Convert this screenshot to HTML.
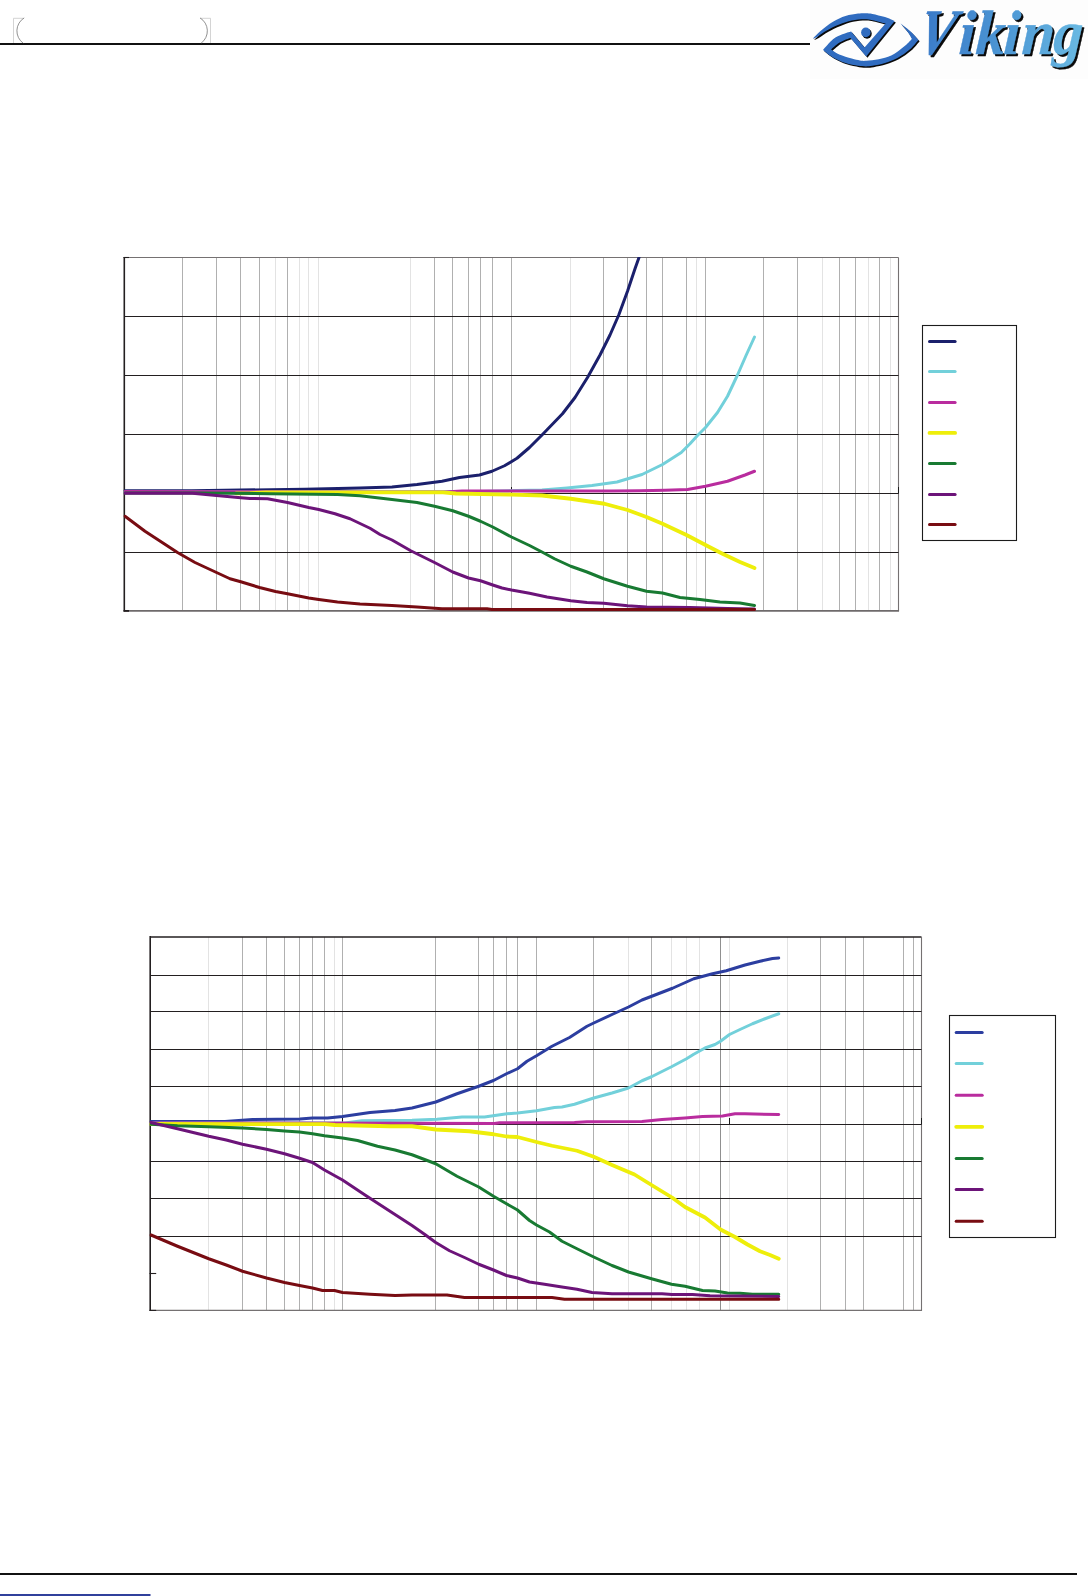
<!DOCTYPE html>
<html lang="en"><head><meta charset="utf-8"><title>Viking</title>
<style>
html,body{margin:0;padding:0;background:#fff}
body{width:1088px;height:1596px;position:relative;overflow:hidden;font-family:"Liberation Serif",serif}
svg{position:absolute;left:0;top:0;display:block}
</style></head><body>
<svg width="1088" height="1596" viewBox="0 0 1088 1596">
<rect width="1088" height="1596" fill="#fff"/>
<!-- header -->
<rect x="810" y="0" width="278" height="79" fill="#fdfdfd"/>
<rect x="0" y="43" width="810" height="2" fill="#111"/>
<g fill="none" stroke="#cfcfcf" stroke-width="0.9">
<path d="M23.7 18.3H13.5V43"/><path d="M200.3 18.3H210.5V43"/>
</g>
<g fill="none" stroke="#6e6e6e" stroke-width="0.75">
<path d="M24.2 17.9A15.2 15.2 0 0 0 23.2 43.2"/><path d="M200 17.9A15.2 15.2 0 0 1 201.1 43.2"/>
</g>
<!-- logo -->
<defs>
<linearGradient id="vg" gradientUnits="userSpaceOnUse" x1="3" y1="0" x2="153" y2="0">
<stop offset="0" stop-color="#3a7ac8"/><stop offset="0.5" stop-color="#4c96d4"/><stop offset="1" stop-color="#68b8e2"/>
</linearGradient>
<filter id="ds" filterUnits="userSpaceOnUse" x="915" y="0" width="173" height="80" color-interpolation-filters="sRGB">
<feOffset in="SourceAlpha" dx="1.65" dy="1.5" result="o"/>
<feFlood flood-color="#0a0a0a" result="c"/>
<feComposite in="c" in2="o" operator="in" result="sh"/>
<feMerge><feMergeNode in="sh"/><feMergeNode in="SourceGraphic"/></feMerge>
</filter>
</defs>
<g id="eye">
<g transform="translate(1.25 1.35)" fill="#0a0a0a"><path d="M812.80 38.70C814.08 37.43 817.13 33.93 820.50 31.10C823.87 28.28 828.83 24.25 833.00 21.75C837.17 19.25 841.33 17.46 845.50 16.10C849.67 14.74 854.58 14.08 858.00 13.60C861.42 13.12 863.58 13.15 866.00 13.20C868.42 13.25 869.33 13.25 872.50 13.90C875.67 14.55 881.30 15.90 885.00 17.10C888.70 18.30 893.08 20.43 894.70 21.10L866.2 56.5L850.5 38C849.46 38.37 846.33 39.27 844.25 40.20C842.17 41.13 840.19 42.03 838.00 43.60C835.81 45.17 832.25 48.60 831.10 49.60C832.46 50.43 835.81 53.10 839.25 54.60C842.69 56.10 848.29 57.62 851.75 58.60C855.21 59.58 857.58 60.13 860.00 60.50C862.42 60.87 863.12 61.01 866.25 60.80C869.38 60.59 874.58 60.13 878.75 59.25C882.92 58.37 887.08 57.58 891.25 55.50C895.42 53.42 900.31 49.52 903.75 46.75C907.19 43.98 910.54 40.21 911.90 38.90C911.17 37.71 909.38 34.30 907.50 31.75C905.62 29.20 901.75 24.96 900.60 23.60C902.17 24.85 907.03 28.38 910.00 31.10C912.97 33.82 917.00 38.43 918.40 39.90C917.00 41.46 913.48 46.23 910.00 49.25C906.52 52.27 901.67 55.71 897.50 58.00C893.33 60.29 889.17 61.70 885.00 63.00C880.83 64.30 875.67 65.23 872.50 65.80C869.33 66.37 868.42 66.40 866.00 66.40C863.58 66.40 861.42 66.37 858.00 65.80C854.58 65.23 849.67 64.40 845.50 63.00C841.33 61.60 836.75 59.58 833.00 57.40C829.25 55.22 824.67 51.15 823.00 49.90C824.67 48.12 829.77 41.86 833.00 39.25C836.23 36.64 839.38 35.56 842.40 34.25C845.42 32.94 849.65 31.88 851.10 31.40L864.5 47.4L885.6 23.6C883.42 23.03 876.06 20.93 872.50 20.20C868.94 19.47 867.71 19.20 864.25 19.25C860.79 19.30 855.92 19.61 851.75 20.50C847.58 21.39 843.42 22.92 839.25 24.60C835.08 26.28 830.36 28.58 826.75 30.60C823.14 32.62 819.93 35.35 817.60 36.70C815.27 38.05 813.60 38.37 812.80 38.70Z"/><ellipse cx="865.8" cy="32.4" rx="4.7" ry="4.9"/></g>
<g fill="#306cc0"><path d="M812.80 38.70C814.08 37.43 817.13 33.93 820.50 31.10C823.87 28.28 828.83 24.25 833.00 21.75C837.17 19.25 841.33 17.46 845.50 16.10C849.67 14.74 854.58 14.08 858.00 13.60C861.42 13.12 863.58 13.15 866.00 13.20C868.42 13.25 869.33 13.25 872.50 13.90C875.67 14.55 881.30 15.90 885.00 17.10C888.70 18.30 893.08 20.43 894.70 21.10L866.2 56.5L850.5 38C849.46 38.37 846.33 39.27 844.25 40.20C842.17 41.13 840.19 42.03 838.00 43.60C835.81 45.17 832.25 48.60 831.10 49.60C832.46 50.43 835.81 53.10 839.25 54.60C842.69 56.10 848.29 57.62 851.75 58.60C855.21 59.58 857.58 60.13 860.00 60.50C862.42 60.87 863.12 61.01 866.25 60.80C869.38 60.59 874.58 60.13 878.75 59.25C882.92 58.37 887.08 57.58 891.25 55.50C895.42 53.42 900.31 49.52 903.75 46.75C907.19 43.98 910.54 40.21 911.90 38.90C911.17 37.71 909.38 34.30 907.50 31.75C905.62 29.20 901.75 24.96 900.60 23.60C902.17 24.85 907.03 28.38 910.00 31.10C912.97 33.82 917.00 38.43 918.40 39.90C917.00 41.46 913.48 46.23 910.00 49.25C906.52 52.27 901.67 55.71 897.50 58.00C893.33 60.29 889.17 61.70 885.00 63.00C880.83 64.30 875.67 65.23 872.50 65.80C869.33 66.37 868.42 66.40 866.00 66.40C863.58 66.40 861.42 66.37 858.00 65.80C854.58 65.23 849.67 64.40 845.50 63.00C841.33 61.60 836.75 59.58 833.00 57.40C829.25 55.22 824.67 51.15 823.00 49.90C824.67 48.12 829.77 41.86 833.00 39.25C836.23 36.64 839.38 35.56 842.40 34.25C845.42 32.94 849.65 31.88 851.10 31.40L864.5 47.4L885.6 23.6C883.42 23.03 876.06 20.93 872.50 20.20C868.94 19.47 867.71 19.20 864.25 19.25C860.79 19.30 855.92 19.61 851.75 20.50C847.58 21.39 843.42 22.92 839.25 24.60C835.08 26.28 830.36 28.58 826.75 30.60C823.14 32.62 819.93 35.35 817.60 36.70C815.27 38.05 813.60 38.37 812.80 38.70Z"/><ellipse cx="865.8" cy="32.4" rx="4.7" ry="4.9"/></g>
</g>
<g font-family="'Liberation Serif',serif" font-weight="700" font-style="italic" font-size="58" stroke-width="0.35" stroke-linejoin="round" fill="url(#vg)" stroke="url(#vg)" filter="url(#ds)"><text transform="translate(915.2 54.0) scale(0.93 1.12) skewX(-13.8)" x="0" y="0">V</text><text transform="translate(922.5 54.0) scale(1.022 1.08) skewX(-3.5)" x="34.7 51.35 78.6 96.4 127.2" y="0">iking</text></g>

<!-- chart 1 -->
<line x1="182.5" y1="257.5" x2="182.5" y2="610.9" stroke="#b0b0b0" stroke-width="1"/>
<line x1="216.5" y1="257.5" x2="216.5" y2="610.9" stroke="#b0b0b0" stroke-width="1"/>
<line x1="240.5" y1="257.5" x2="240.5" y2="610.9" stroke="#b0b0b0" stroke-width="1"/>
<line x1="259.5" y1="257.5" x2="259.5" y2="610.9" stroke="#b0b0b0" stroke-width="1"/>
<line x1="275.5" y1="257.5" x2="275.5" y2="610.9" stroke="#e3e3e3" stroke-width="1"/>
<line x1="287.5" y1="257.5" x2="287.5" y2="610.9" stroke="#b0b0b0" stroke-width="1"/>
<line x1="299.5" y1="257.5" x2="299.5" y2="610.9" stroke="#e3e3e3" stroke-width="1"/>
<line x1="308.5" y1="257.5" x2="308.5" y2="610.9" stroke="#e3e3e3" stroke-width="1"/>
<line x1="318.5" y1="257.5" x2="318.5" y2="610.9" stroke="#e3e3e3" stroke-width="1"/>
<line x1="410.5" y1="257.5" x2="410.5" y2="610.9" stroke="#e3e3e3" stroke-width="1"/>
<line x1="434.5" y1="257.5" x2="434.5" y2="610.9" stroke="#b0b0b0" stroke-width="1"/>
<line x1="452.5" y1="257.5" x2="452.5" y2="610.9" stroke="#b0b0b0" stroke-width="1"/>
<line x1="468.5" y1="257.5" x2="468.5" y2="610.9" stroke="#b0b0b0" stroke-width="1"/>
<line x1="480.5" y1="257.5" x2="480.5" y2="610.9" stroke="#b0b0b0" stroke-width="1"/>
<line x1="492.5" y1="257.5" x2="492.5" y2="610.9" stroke="#b0b0b0" stroke-width="1"/>
<line x1="511.5" y1="257.5" x2="511.5" y2="610.9" stroke="#b0b0b0" stroke-width="1"/>
<line x1="570.5" y1="257.5" x2="570.5" y2="610.9" stroke="#e3e3e3" stroke-width="1"/>
<line x1="603.5" y1="257.5" x2="603.5" y2="610.9" stroke="#b0b0b0" stroke-width="1"/>
<line x1="627.5" y1="257.5" x2="627.5" y2="610.9" stroke="#b0b0b0" stroke-width="1"/>
<line x1="646.5" y1="257.5" x2="646.5" y2="610.9" stroke="#b0b0b0" stroke-width="1"/>
<line x1="662.5" y1="257.5" x2="662.5" y2="610.9" stroke="#b0b0b0" stroke-width="1"/>
<line x1="686.5" y1="257.5" x2="686.5" y2="610.9" stroke="#b0b0b0" stroke-width="1"/>
<line x1="696.5" y1="257.5" x2="696.5" y2="610.9" stroke="#e3e3e3" stroke-width="1"/>
<line x1="705.5" y1="257.5" x2="705.5" y2="610.9" stroke="#b0b0b0" stroke-width="1"/>
<line x1="763.5" y1="257.5" x2="763.5" y2="610.9" stroke="#b0b0b0" stroke-width="1"/>
<line x1="797.5" y1="257.5" x2="797.5" y2="610.9" stroke="#b0b0b0" stroke-width="1"/>
<line x1="822.5" y1="257.5" x2="822.5" y2="610.9" stroke="#e3e3e3" stroke-width="1"/>
<line x1="839.5" y1="257.5" x2="839.5" y2="610.9" stroke="#b0b0b0" stroke-width="1"/>
<line x1="855.5" y1="257.5" x2="855.5" y2="610.9" stroke="#b0b0b0" stroke-width="1"/>
<line x1="868.5" y1="257.5" x2="868.5" y2="610.9" stroke="#e3e3e3" stroke-width="1"/>
<line x1="879.5" y1="257.5" x2="879.5" y2="610.9" stroke="#b0b0b0" stroke-width="1"/>
<line x1="890.5" y1="257.5" x2="890.5" y2="610.9" stroke="#e3e3e3" stroke-width="1"/>
<line x1="124.3" y1="257.5" x2="898.5" y2="257.5" stroke="#757172" stroke-width="1.1"/>
<line x1="898.5" y1="257.5" x2="898.5" y2="610.9" stroke="#757172" stroke-width="1.1"/>
<line x1="124.3" y1="610.9" x2="899.05" y2="610.9" stroke="#6e6a6b" stroke-width="1.75"/>
<line x1="124.3" y1="316.5" x2="898.5" y2="316.5" stroke="#231f20" stroke-width="1.1"/>
<line x1="124.3" y1="375.5" x2="898.5" y2="375.5" stroke="#231f20" stroke-width="1.1"/>
<line x1="124.3" y1="434.5" x2="898.5" y2="434.5" stroke="#231f20" stroke-width="1.1"/>
<line x1="124.3" y1="493.5" x2="898.5" y2="493.5" stroke="#231f20" stroke-width="1.1"/>
<line x1="124.3" y1="552.5" x2="898.5" y2="552.5" stroke="#231f20" stroke-width="1.1"/>
<line x1="124.3" y1="256.95" x2="124.3" y2="611.45" stroke="#231f20" stroke-width="1.6"/>
<line x1="123.5" y1="257.5" x2="129" y2="257.5" stroke="#231f20" stroke-width="1.1"/><line x1="123.5" y1="610.9" x2="129" y2="610.9" stroke="#231f20" stroke-width="1.75"/>
<line x1="511.5" y1="487" x2="511.5" y2="493.5" stroke="#1c1c1c" stroke-width="1"/>
<line x1="705.5" y1="487" x2="705.5" y2="493.5" stroke="#1c1c1c" stroke-width="1"/>
<line x1="898.5" y1="487" x2="898.5" y2="493.5" stroke="#1c1c1c" stroke-width="1"/>
<clipPath id="cp124"><rect x="123.5" y="257" width="775.2" height="355"/></clipPath>
<g fill="none" stroke-linecap="round" stroke-linejoin="round" clip-path="url(#cp124)">
<polyline stroke="#1b206c" stroke-width="3" points="125,490.8 192,490.8 225,490.3 305,489.2 360,488 392,487 417,484.5 442,481.25 459.5,477.5 479.5,475 492,471.25 504.5,465.75 517,458.25 529.5,447.5 542,435 562.5,413.75 575,397.5 587.5,377.5 600,355 610,335 618.75,315 627.5,291.25 635,268.75 639,257.5"/>
<polyline stroke="#72d0da" stroke-width="3" points="125,491.9 480,491.6 517,490.5 542,490 567,488 592,485.5 617,482 642,474.5 662.5,464.5 681.25,452.5 690,443.75 697.5,435.5 705.5,427.5 717.5,412.5 727.5,396.25 737.5,375 746.25,355 754.5,337"/>
<polyline stroke="#b92c9e" stroke-width="3" points="125,491.6 392,491.9 445,491.9 462,491.1 612,491 640,490.75 665,490.25 687.5,489.5 705.5,486.25 727.5,481.25 745,475 754.5,471.25"/>
<polyline stroke="#eeee0a" stroke-width="3.8" points="236,493.3 250,493.1 266,492.5 392,492.4 443,492.4 456,493.5 512,494.6 542,495.5 570.75,498.75 604.5,503.75 627.5,510 646.5,517 662.5,523.75 686.5,535 705.5,545 722.5,553.75 740,562 754.5,568"/>
<polyline stroke="#187a32" stroke-width="3" points="125,493 200,493 270,493.7 337.5,494.5 360,495.75 392,499.5 417,502.5 434.5,506.25 452.75,510.75 468.5,516.25 480.5,521.25 492.75,527 511.5,537 529.5,545.5 542,552 554.5,558.75 570.75,566.25 587,572 603.75,578.75 627.5,586.25 646.5,591.25 662.5,593 680,597.5 700,599.5 720,602 740,603 754.5,605.5"/>
<polyline stroke="#6c1479" stroke-width="3" points="125,493.3 192.5,493.3 216.5,495.5 240.75,497.75 250,498.5 267.5,498.75 287.5,502.5 308.75,507.5 318.75,509.5 335,513.75 350,518.75 370,528.25 380,534.5 392,540 410.75,550.75 434.5,562.5 452.75,572 468.5,578 480.5,580.75 492.75,585 502,588 511.5,590 529.5,593.25 547,597 570.75,600.75 587,602.5 603.75,603.25 627.5,605.75 646.5,607 690,607.5 727.5,608.5 754.5,609"/>
<polyline stroke="#780c12" stroke-width="3" points="125,516.25 145,531.25 177.5,552.5 195,562.5 216.5,572.5 230,578.75 240.75,581.75 259.5,587.5 275.5,591.5 287.5,593.75 308.75,598 318.75,599.5 337.5,602 360,604 392,605.5 417,607 442,608.75 487,608.75 492,609.6 754.5,609.6"/>
</g>
<rect x="922.5" y="325.5" width="94" height="215" fill="#fff" stroke="#1c1c1c" stroke-width="1.1"/>
<g stroke-linecap="round">
<line x1="929.5" y1="341.5" x2="955.1" y2="341.5" stroke="#1b206c" stroke-width="3"/>
<line x1="929.5" y1="371.5" x2="955.1" y2="371.5" stroke="#72d0da" stroke-width="3"/>
<line x1="929.5" y1="402.4" x2="955.1" y2="402.4" stroke="#b92c9e" stroke-width="3"/>
<line x1="929.5" y1="432.9" x2="955.1" y2="432.9" stroke="#eeee0a" stroke-width="3.8"/>
<line x1="929.5" y1="463.5" x2="955.1" y2="463.5" stroke="#187a32" stroke-width="3"/>
<line x1="929.5" y1="494.4" x2="955.1" y2="494.4" stroke="#6c1479" stroke-width="3"/>
<line x1="929.5" y1="524.5" x2="955.1" y2="524.5" stroke="#780c12" stroke-width="3"/>
</g>
<!-- chart 2 -->
<line x1="208.5" y1="937" x2="208.5" y2="1310.4" stroke="#e3e3e3" stroke-width="1"/>
<line x1="242.5" y1="937" x2="242.5" y2="1310.4" stroke="#b0b0b0" stroke-width="1"/>
<line x1="266.5" y1="937" x2="266.5" y2="1310.4" stroke="#b0b0b0" stroke-width="1"/>
<line x1="284.5" y1="937" x2="284.5" y2="1310.4" stroke="#b0b0b0" stroke-width="1"/>
<line x1="299.5" y1="937" x2="299.5" y2="1310.4" stroke="#b0b0b0" stroke-width="1"/>
<line x1="312.5" y1="937" x2="312.5" y2="1310.4" stroke="#b0b0b0" stroke-width="1"/>
<line x1="324.5" y1="937" x2="324.5" y2="1310.4" stroke="#b0b0b0" stroke-width="1"/>
<line x1="334.5" y1="937" x2="334.5" y2="1310.4" stroke="#e3e3e3" stroke-width="1"/>
<line x1="342.5" y1="937" x2="342.5" y2="1310.4" stroke="#b0b0b0" stroke-width="1"/>
<line x1="435.5" y1="937" x2="435.5" y2="1310.4" stroke="#b0b0b0" stroke-width="1"/>
<line x1="478.5" y1="937" x2="478.5" y2="1310.4" stroke="#b0b0b0" stroke-width="1"/>
<line x1="493.5" y1="937" x2="493.5" y2="1310.4" stroke="#b0b0b0" stroke-width="1"/>
<line x1="506.5" y1="937" x2="506.5" y2="1310.4" stroke="#b0b0b0" stroke-width="1"/>
<line x1="517.5" y1="937" x2="517.5" y2="1310.4" stroke="#b0b0b0" stroke-width="1"/>
<line x1="536.5" y1="937" x2="536.5" y2="1310.4" stroke="#b0b0b0" stroke-width="1"/>
<line x1="593.5" y1="937" x2="593.5" y2="1310.4" stroke="#b0b0b0" stroke-width="1"/>
<line x1="628.5" y1="937" x2="628.5" y2="1310.4" stroke="#e3e3e3" stroke-width="1"/>
<line x1="651.5" y1="937" x2="651.5" y2="1310.4" stroke="#b0b0b0" stroke-width="1"/>
<line x1="671.5" y1="937" x2="671.5" y2="1310.4" stroke="#e3e3e3" stroke-width="1"/>
<line x1="686.5" y1="937" x2="686.5" y2="1310.4" stroke="#e3e3e3" stroke-width="1"/>
<line x1="699.5" y1="937" x2="699.5" y2="1310.4" stroke="#e3e3e3" stroke-width="1"/>
<line x1="720.5" y1="937" x2="720.5" y2="1310.4" stroke="#909090" stroke-width="1"/>
<line x1="729.5" y1="937" x2="729.5" y2="1310.4" stroke="#e3e3e3" stroke-width="1"/>
<line x1="787.5" y1="937" x2="787.5" y2="1310.4" stroke="#e3e3e3" stroke-width="1"/>
<line x1="820.5" y1="937" x2="820.5" y2="1310.4" stroke="#b0b0b0" stroke-width="1"/>
<line x1="845.5" y1="937" x2="845.5" y2="1310.4" stroke="#b0b0b0" stroke-width="1"/>
<line x1="863.5" y1="937" x2="863.5" y2="1310.4" stroke="#b0b0b0" stroke-width="1"/>
<line x1="903.5" y1="937" x2="903.5" y2="1310.4" stroke="#b0b0b0" stroke-width="1"/>
<line x1="913.5" y1="937" x2="913.5" y2="1310.4" stroke="#b0b0b0" stroke-width="1"/>
<line x1="150.2" y1="937" x2="921.5" y2="937" stroke="#231f20" stroke-width="1.5"/>
<line x1="921.5" y1="937" x2="921.5" y2="1310.4" stroke="#757172" stroke-width="1.1"/>
<line x1="150.2" y1="1310.4" x2="922.05" y2="1310.4" stroke="#757172" stroke-width="1.1"/>
<line x1="150.2" y1="975.5" x2="921.5" y2="975.5" stroke="#231f20" stroke-width="1.1"/>
<line x1="150.2" y1="1011.5" x2="921.5" y2="1011.5" stroke="#231f20" stroke-width="1.1"/>
<line x1="150.2" y1="1049.5" x2="921.5" y2="1049.5" stroke="#231f20" stroke-width="1.1"/>
<line x1="150.2" y1="1086.5" x2="921.5" y2="1086.5" stroke="#231f20" stroke-width="1.1"/>
<line x1="150.2" y1="1124.5" x2="921.5" y2="1124.5" stroke="#231f20" stroke-width="1.1"/>
<line x1="150.2" y1="1161.5" x2="921.5" y2="1161.5" stroke="#231f20" stroke-width="1.1"/>
<line x1="150.2" y1="1198.5" x2="921.5" y2="1198.5" stroke="#231f20" stroke-width="1.1"/>
<line x1="150.2" y1="1236.5" x2="921.5" y2="1236.5" stroke="#231f20" stroke-width="1.1"/>
<line x1="150.2" y1="936.1" x2="150.2" y2="1310.95" stroke="#231f20" stroke-width="1.6"/>
<line x1="149.5" y1="1273.5" x2="156.2" y2="1273.5" stroke="#231f20" stroke-width="1.1"/><line x1="149.5" y1="1310.4" x2="156.2" y2="1310.4" stroke="#231f20" stroke-width="1.1"/>
<line x1="342.5" y1="1118" x2="342.5" y2="1124.5" stroke="#1c1c1c" stroke-width="1"/>
<line x1="536.5" y1="1118" x2="536.5" y2="1124.5" stroke="#1c1c1c" stroke-width="1"/>
<line x1="729.5" y1="1118" x2="729.5" y2="1124.5" stroke="#1c1c1c" stroke-width="1"/>
<line x1="921.5" y1="1118" x2="921.5" y2="1124.5" stroke="#1c1c1c" stroke-width="1"/>
<clipPath id="cp150"><rect x="149.4" y="936.5" width="772.3" height="375"/></clipPath>
<g fill="none" stroke-linecap="round" stroke-linejoin="round" clip-path="url(#cp150)">
<polyline stroke="#2c3ea0" stroke-width="3" points="151,1121.5 225,1121.5 252.5,1119.5 300,1119 312.5,1118 327.5,1118 342.5,1116.5 370,1112.5 395,1110.5 412,1108 435.75,1102 457,1093.75 478.75,1086.25 493.5,1080.5 506.5,1073.75 517.5,1068.75 527,1061.25 536.5,1055.75 552,1046.25 569.5,1037.5 587,1026.25 593.75,1023 612,1014.5 628.5,1007 642,1000 655,995 672.5,988.25 693.75,978.75 712.5,973.75 726.25,970.75 745,965 760,961.25 772.5,958.5 778.75,958"/>
<polyline stroke="#72d0da" stroke-width="3" points="151,1122.9 345,1123.1 362,1120.8 412,1120.2 437,1119.25 462,1117 484.5,1117 507,1113.75 517.5,1113 536.5,1110.75 554.5,1107.5 562,1107 574.5,1104.25 593.75,1098 612,1093 628.5,1088 642,1080.75 651.5,1076.75 671.5,1066.75 686.5,1058.75 693.75,1054.25 705,1048 715,1044.5 720.5,1041.25 729.5,1034.5 740,1029.5 752.5,1023.75 765,1018.75 778.75,1013.75"/>
<polyline stroke="#b92c9e" stroke-width="3" points="151,1123 412,1123.3 494.5,1123.5 499.5,1122.75 574.5,1122.5 587,1121.75 642,1121.5 662,1119.5 685,1118 702.5,1116.5 722.5,1116 735,1113.75 745,1113.75 778.75,1114.5"/>
<polyline stroke="#eeee0a" stroke-width="3.8" points="151,1124 325,1124.1 335,1125 390,1126.25 412,1126.25 435.75,1129.5 469.5,1131.25 493.5,1134.25 506.5,1136.5 517.5,1137 536.5,1142 552,1145.75 577,1150.75 593.75,1156.75 612,1165 634.5,1174.5 651.5,1185 672,1197.5 685,1207 705,1217.5 720.5,1229.5 735,1237 747.5,1244.5 760,1251.25 770,1255 778.75,1258.75"/>
<polyline stroke="#187a32" stroke-width="3" points="151,1124.25 177.5,1125.75 208.75,1126.75 242.5,1128 266.5,1129.5 284.5,1131 299.5,1132 312.5,1133.75 324.5,1135.75 342.5,1138 357.5,1140.5 377.5,1146.25 395,1150 412,1154.75 435.75,1163.75 457,1176.25 478.75,1187 493.5,1196.25 506.5,1203.75 517.5,1210 529.5,1220.5 536.5,1225 549.5,1232 562,1241.25 577,1248.75 593.75,1257 612,1265.5 628.5,1272 651.5,1278.75 671.5,1284.25 685,1286.25 702.5,1290.5 715,1291 727.5,1293 740,1293.25 752.5,1294.25 778.75,1294.25"/>
<polyline stroke="#6c1479" stroke-width="3" points="151,1122.5 177.5,1128.75 208.75,1136.25 226.25,1140 242.5,1144.25 266.5,1149.25 284.5,1153.75 299.5,1158.25 312.5,1162.5 324.5,1170 342.5,1180 365,1195 390,1211.25 412,1225.6 424.5,1234.25 435.75,1242.5 449.5,1250.75 464.5,1257.5 478.75,1264.25 493.5,1270 506.5,1275.5 517.5,1278 529.5,1282 544.5,1284.25 562,1287 577,1289.25 592,1292.5 612,1293.75 662,1293.75 672,1294.5 692.5,1294.5 710,1295.75 778.75,1296.5"/>
<polyline stroke="#780c12" stroke-width="3" points="151,1235 177.5,1246.25 208.75,1258.75 226.25,1265 242.5,1271.25 266.5,1278 284.5,1282.5 299.5,1285.5 312.5,1288 322.5,1290.5 334.5,1290.5 342.5,1292.5 370,1294.25 395,1295.5 412,1295 447,1295 464.5,1297.5 552,1297.5 564.5,1299.25 778.75,1299.25"/>
</g>
<rect x="949.5" y="1015.5" width="106" height="222" fill="#fff" stroke="#1c1c1c" stroke-width="1.1"/>
<g stroke-linecap="round">
<line x1="956.2" y1="1032.5" x2="982.2" y2="1032.5" stroke="#2c3ea0" stroke-width="3"/>
<line x1="956.2" y1="1063.4" x2="982.2" y2="1063.4" stroke="#72d0da" stroke-width="3"/>
<line x1="956.2" y1="1095.3" x2="982.2" y2="1095.3" stroke="#b92c9e" stroke-width="3"/>
<line x1="956.2" y1="1126.8" x2="982.2" y2="1126.8" stroke="#eeee0a" stroke-width="3.8"/>
<line x1="956.2" y1="1158.4" x2="982.2" y2="1158.4" stroke="#187a32" stroke-width="3"/>
<line x1="956.2" y1="1189.4" x2="982.2" y2="1189.4" stroke="#6c1479" stroke-width="3"/>
<line x1="956.2" y1="1221.2" x2="982.2" y2="1221.2" stroke="#780c12" stroke-width="3"/>
</g>
<!-- footer -->
<rect x="0" y="1573" width="1077" height="2" fill="#111"/>
<rect x="0" y="1594" width="150.5" height="2" fill="#30409c"/>
</svg>
</body></html>
